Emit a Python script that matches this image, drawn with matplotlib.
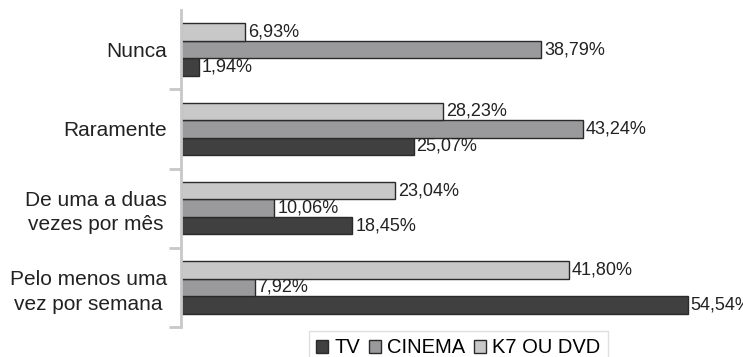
import numpy as np
import matplotlib
matplotlib.use("Agg")
import matplotlib.pyplot as plt

categories = ["Nunca", "Raramente", "De uma a duas\nvezes por mês", "Pelo menos uma\nvez por semana"]
tv = [1.94, 25.07, 18.45, 54.54]
cinema = [38.79, 43.24, 10.06, 7.92]
k7_dvd = [6.93, 28.23, 23.04, 41.80]
series_names = ["TV", "CINEMA", "K7 OU DVD"]

plt.rcParams['font.family'] = ['Liberation Sans', 'DejaVu Sans']

fig = plt.figure(figsize=(7.43, 3.57), dpi=100)
ax = fig.add_axes([0.2436, 0.084, 0.75, 0.888])

y = np.arange(len(categories))
h = 0.22
colors = ["#404040", "#9a9a9c", "#c8c8c8"]
offsets = [h, 0, -h]
bars_all = []
for vals, col, off, name in zip([tv, cinema, k7_dvd], colors, offsets, series_names):
    bars = ax.barh(y + off, vals, height=h, color=col, edgecolor="#2a2a2a",
                   linewidth=1.0, label=name)
    bars_all.append(bars)
    for b, v in zip(bars, vals):
        ax.text(b.get_width() + 0.3, b.get_y() + b.get_height() / 2,
                f"{v:.2f}%".replace(".", ","), va="center", ha="left",
                fontsize=13, color="#222222", clip_on=False)

ax.set_ylim(len(categories) - 0.5, -0.5)
ax.set_xlim(0, 60)
ax.set_yticks(y)
ax.set_yticklabels(categories, fontsize=15, color="#222222",
                   multialignment="center", linespacing=1.35)
ax.tick_params(axis="y", which="major", length=0, pad=10)
ax.set_yticks(np.arange(1, len(categories) + 1) - 0.5, minor=True)
ax.tick_params(axis="y", which="minor", length=9, width=2, color="#c8c8c8")
ax.set_xticks([])
for s in ["top", "right", "bottom"]:
    ax.spines[s].set_visible(False)
ax.spines["left"].set_color("#c8c8c8")
ax.spines["left"].set_linewidth(2)

leg = fig.legend(handles=bars_all, labels=series_names, loc="upper center",
                 bbox_to_anchor=(0.617, 0.072), ncol=3, fontsize=14.5,
                 frameon=True, fancybox=False, handlelength=0.6,
                 handleheight=0.6, handletextpad=0.3, columnspacing=0.45,
                 borderpad=0.35, borderaxespad=0)
leg.get_frame().set_edgecolor("#d8d8d8")
leg.get_frame().set_linewidth(1)

fig.savefig("out.png", dpi=100)
